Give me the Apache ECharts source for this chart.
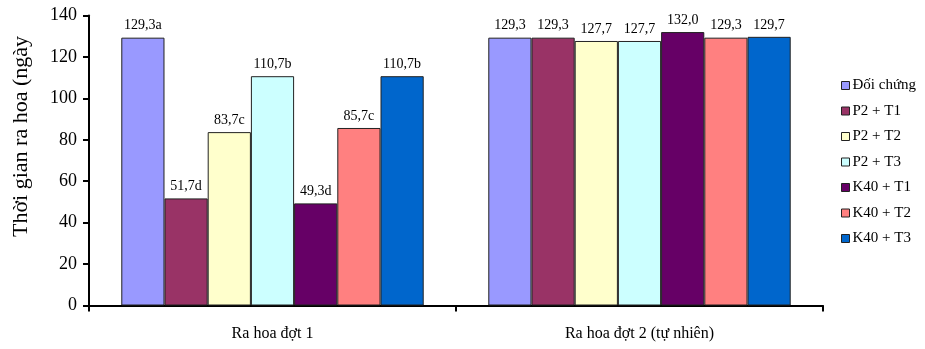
<!DOCTYPE html>
<html>
<head>
<meta charset="utf-8">
<script src="https://cdn.jsdelivr.net/npm/echarts@6/dist/echarts.min.js"></script>
<style>
  html, body { margin: 0; padding: 0; background: #fff; }
  #chart { width: 925px; height: 349px; }
</style>
</head>
<body>
<div id="chart"></div>
<script>
// Flowering periods and treatments
const categories = ['Ra hoa đợt 1', 'Ra hoa đợt 2 (tự nhiên)'];
const treatments = ['Đối chứng', 'P2 + T1', 'P2 + T2', 'P2 + T3', 'K40 + T1', 'K40 + T2', 'K40 + T3'];

// Days to flowering, one array per treatment: [đợt 1, đợt 2]
const doiChung = [129.3, 129.3];
const p2t1 = [51.7, 129.3];
const p2t2 = [83.7, 127.7];
const p2t3 = [110.7, 127.7];
const k40t1 = [49.3, 132.0];
const k40t2 = [85.7, 129.3];
const k40t3 = [110.7, 129.7];

// Significance letters for the first flowering period (none for the second)
const lettersDot1 = ['a', 'd', 'c', 'b', 'd', 'c', 'b'];

const yTicks = { min: 0, max: 140, interval: 20 };

const seriesValues = [doiChung, p2t1, p2t2, p2t3, k40t1, k40t2, k40t3];
const colors = ['#9999FF', '#993366', '#FFFFCC', '#CCFFFF', '#660066', '#FF8080', '#0066CC'];

const serif = '"Liberation Serif", "Times New Roman", serif';

function fmt(v) {
  return v.toFixed(1).replace('.', ',');
}

const series = treatments.map((name, i) => ({
  name: name,
  type: 'bar',
  data: seriesValues[i],
  barGap: '0%',
  barCategoryGap: '17.6%',
  itemStyle: { color: colors[i], borderColor: '#222', borderWidth: 1 },
  label: {
    show: true,
    position: 'top',
    distance: 5,
    fontFamily: serif,
    fontSize: 14,
    color: '#000',
    formatter: p => fmt(p.value) + (p.dataIndex === 0 ? lettersDot1[i] : '')
  }
}));

const chart = echarts.init(document.getElementById('chart'), null, { renderer: 'canvas' });
chart.setOption({
  animation: false,
  backgroundColor: '#fff',
  grid: { left: 89, right: 102, top: 15.5, bottom: 43.5, containLabel: false },
  legend: {
    orient: 'vertical',
    left: 836,
    top: 73,
    itemWidth: 8,
    itemHeight: 8,
    itemGap: 10.5,
    icon: 'rect',
    textStyle: { fontFamily: serif, fontSize: 15, color: '#000', padding: [0, 0, 0, -2] },
    itemStyle: { borderColor: '#222', borderWidth: 1 },
    data: treatments
  },
  xAxis: {
    type: 'category',
    data: categories,
    axisLine: { lineStyle: { color: '#000', width: 2 } },
    axisTick: { show: true, length: 6, lineStyle: { color: '#000', width: 2 } },
    axisLabel: { fontFamily: serif, fontSize: 16, color: '#000', margin: 20 }
  },
  yAxis: {
    type: 'value',
    min: yTicks.min,
    max: yTicks.max,
    interval: yTicks.interval,
    splitLine: { show: false },
    axisLine: { show: true, lineStyle: { color: '#000', width: 2 } },
    axisTick: { show: true, length: 6, lineStyle: { color: '#000', width: 2 } },
    axisLabel: { fontFamily: serif, fontSize: 18, color: '#000', margin: 12 }
  },
  graphic: [{
    type: 'text',
    left: 10,
    top: 36,
    rotation: Math.PI / 2,
    style: {
      text: 'Thời gian ra hoa (ngày',
      font: '22px ' + serif,
      fill: '#000'
    }
  }],
  series: series
});
</script>
</body>
</html>
